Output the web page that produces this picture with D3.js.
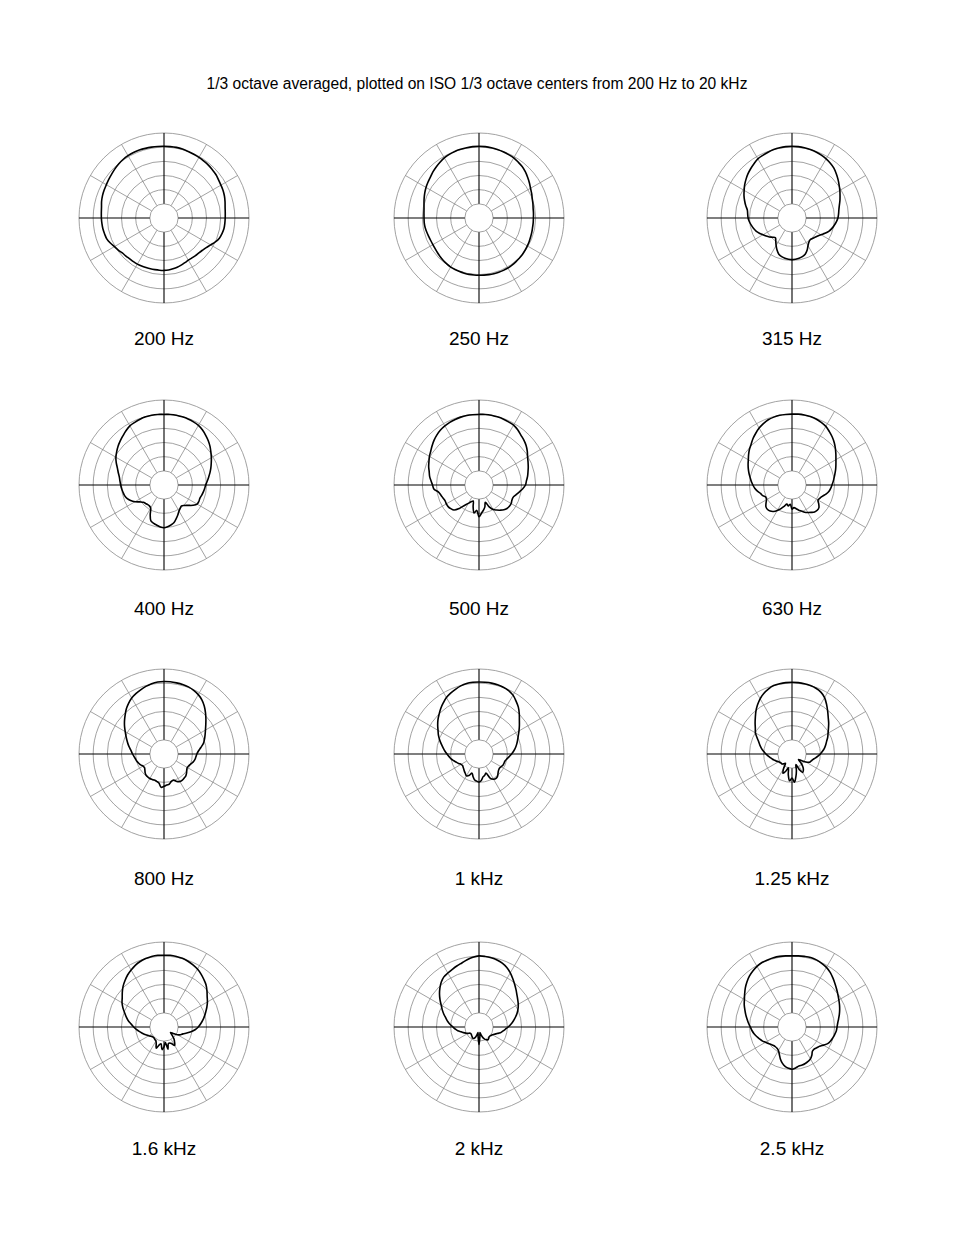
<!DOCTYPE html>
<html>
<head>
<meta charset="utf-8">
<script src="https://cdn.jsdelivr.net/npm/d3@7"></script>
<style>
  body { margin: 0; background: #fff; }
  svg { display: block; font-family: "Liberation Sans", Arial, sans-serif; }
</style>
</head>
<body>
<div id="chart"></div>
<script>
// polar response, dB relative to on-axis, read every 5 degrees (0 = front, clockwise)
const title = "1/3 octave averaged, plotted on ISO 1/3 octave centers from 200 Hz to 20 kHz";
const freqLabels = ["200 Hz", "250 Hz", "315 Hz", "400 Hz", "500 Hz", "630 Hz",
                    "800 Hz", "1 kHz", "1.25 kHz", "1.6 kHz", "2 kHz", "2.5 kHz"];
const angles = d3.range(0, 360, 5);

const hz200 = [0.3, 0.3, 0.3, 0.2, 0, -0.15, -0.3, -0.5, -0.65, -0.9, -1.1, -1.5,
  -1.8, -2.0, -2.3, -2.7, -3.1, -3.3, -3.4, -3.45, -3.5, -3.8, -4.2, -5.0,
  -6.0, -6.8, -7.3, -7.6, -7.7, -7.8, -7.8, -7.6, -7.3, -7.0, -6.8, -6.6,
  -6.5, -6.5, -6.5, -6.45, -6.4, -6.3, -6.2, -6.2, -6.2, -6.0, -5.8, -5.3,
  -4.8, -4.1, -3.5, -3.3, -3.1, -3.0, -2.9, -2.8, -2.6, -2.2, -1.9, -1.7,
  -1.5, -1.2, -0.9, -0.5, -0.1, 0.2, 0.4, 0.5, 0.5, 0.45, 0.4, 0.35];
const hz250 = [0.3, 0.3, 0.2, 0.05, -0.1, -0.3, -0.5, -0.9, -1.3, -1.9, -2.6, -3.3,
  -4.0, -4.5, -5.0, -5.3, -5.6, -5.7, -5.8, -5.8, -5.8, -5.7, -5.6, -5.45,
  -5.3, -5.15, -5.0, -4.9, -4.8, -4.7, -4.6, -4.6, -4.6, -4.65, -4.7, -4.75,
  -4.8, -4.8, -4.8, -4.85, -4.9, -4.95, -5.0, -5.2, -5.4, -5.65, -5.9, -6.1,
  -6.2, -6.2, -6.1, -5.9, -5.7, -5.6, -5.6, -5.5, -5.3, -4.9, -4.4, -3.9,
  -3.4, -3.0, -2.6, -2.0, -1.5, -1.0, -0.5, -0.2, 0, 0.1, 0.2, 0.3];
const hz315 = [0.3, 0.3, 0.2, 0, -0.2, -0.5, -0.9, -1.4, -2.0, -2.9, -3.8, -4.7,
  -5.5, -6.3, -7.0, -7.7, -8.2, -8.5, -8.8, -9.3, -9.9, -10.5, -11.2, -12.2,
  -13.2, -13.9, -14.4, -14.8, -15.0, -14.6, -13.7, -12.4, -11.4, -10.9, -10.6, -10.4,
  -10.3, -10.4, -10.6, -10.9, -11.4, -12.5, -13.8, -15.0, -15.9, -15.4, -14.6, -13.9,
  -13.2, -12.3, -11.5, -10.9, -10.4, -9.9, -9.5, -9.3, -9.0, -8.1, -7.2, -6.3,
  -5.5, -4.6, -3.8, -3.0, -2.3, -1.6, -0.9, -0.6, -0.3, 0, 0.2, 0.3];
const hz400 = [-0.1, 0, 0, -0.1, -0.2, -0.4, -0.7, -1.3, -2.1, -2.9, -3.8, -4.8,
  -5.7, -6.6, -7.4, -8.2, -9.0, -9.7, -10.3, -10.6, -10.9, -11.2, -11.5, -11.4,
  -11.5, -12.5, -13.8, -14.8, -15.4, -15.0, -14.4, -13.4, -12.4, -11.3, -10.7, -10.2,
  -9.9, -10.1, -10.6, -11.0, -11.5, -13.5, -15.6, -16.0, -16.0, -15.8, -15.5, -14.6,
  -13.2, -12.0, -11.1, -10.6, -10.3, -10.0, -9.7, -9.4, -9.0, -8.3, -7.5, -6.4,
  -5.4, -4.6, -3.8, -3.1, -2.4, -1.6, -0.9, -0.6, -0.3, -0.1, 0, 0];
const hz500 = [-0.1, 0, 0, -0.1, -0.2, -0.4, -0.6, -1.2, -2.0, -2.6, -3.3, -4.2,
  -5.2, -5.9, -6.5, -7.1, -7.6, -8.2, -8.6, -9.5, -10.6, -11.5, -12.2, -12.2,
  -11.9, -11.9, -12.1, -12.6, -13.4, -14.2, -15.0, -16.5, -18.5, -17.0, -16.0, -15.0,
  -13.8, -16.0, -15.0, -17.0, -19.0, -18.5, -17.5, -16.3, -14.2, -12.5, -12.0, -11.7,
  -11.7, -11.8, -11.5, -11.1, -10.5, -9.0, -8.6, -8.0, -7.3, -6.8, -6.1, -5.5,
  -4.8, -4.2, -3.4, -2.6, -1.9, -1.3, -0.9, -0.6, -0.4, -0.2, -0.1, -0.1];
const hz630 = [0, 0.1, 0.1, 0, -0.2, -0.6, -1.1, -2.0, -2.9, -3.9, -5.0, -6.1,
  -7.1, -7.9, -8.6, -9.3, -9.9, -10.4, -10.9, -11.3, -11.8, -12.6, -13.5, -14.1,
  -14.4, -13.5, -12.6, -12.4, -12.6, -13.2, -13.8, -14.4, -15.2, -15.8, -16.5, -17.0,
  -16.5, -18.2, -17.5, -18.0, -17.0, -15.8, -14.6, -13.6, -13.0, -12.8, -13.0, -13.8,
  -14.6, -14.8, -14.0, -13.5, -12.6, -11.8, -11.2, -10.6, -10.0, -9.3, -8.6, -7.9,
  -7.2, -6.3, -5.4, -4.6, -3.6, -2.7, -1.8, -1.1, -0.5, -0.2, 0, 0];
const hz800 = [0.6, 0.6, 0.5, 0.4, 0.2, -0.2, -0.8, -1.7, -2.9, -4.3, -5.7, -7.0,
  -8.1, -9.0, -9.8, -10.6, -11.8, -12.8, -13.4, -13.7, -13.9, -14.3, -14.9, -15.3,
  -15.5, -15.2, -14.6, -14.1, -13.9, -13.7, -13.8, -14.3, -15.2, -15.0, -14.2, -14.0,
  -13.6, -13.2, -14.6, -15.0, -15.2, -15.1, -15.0, -15.1, -15.2, -15.6, -16.2, -16.6,
  -16.5, -15.9, -15.5, -15.1, -14.8, -14.4, -13.9, -13.4, -12.7, -11.9, -11.1, -10.2,
  -9.2, -8.0, -6.8, -5.6, -4.3, -3.2, -2.2, -1.5, -0.9, -0.3, 0.2, 0.5];
const hz1000 = [0.4, 0.4, 0.4, 0.3, 0.1, -0.3, -1.0, -2.2, -3.4, -4.9, -6.4, -7.6,
  -8.7, -9.7, -10.5, -11.2, -11.9, -12.7, -13.5, -14.3, -15.0, -15.5, -15.6, -15.7,
  -16.0, -16.2, -16.0, -15.5, -14.8, -14.5, -14.7, -15.5, -17.8, -17.2, -16.8, -15.6,
  -15.1, -15.4, -15.8, -16.8, -17.8, -16.6, -16.1, -16.6, -17.0, -17.4, -17.7, -17.9,
  -17.7, -17.1, -16.5, -15.8, -15.0, -14.4, -13.7, -12.9, -12.1, -11.2, -10.2, -9.2,
  -8.3, -7.2, -6.1, -5.1, -4.0, -3.0, -2.0, -1.3, -0.7, -0.1, 0.3, 0.4];
const hz1250 = [0.3, 0.3, 0.2, 0, -0.3, -0.9, -2.0, -3.7, -5.4, -6.9, -8.1, -9.3,
  -10.3, -11.1, -12.0, -12.7, -13.4, -14.2, -15.0, -15.9, -16.7, -17.4, -17.8, -18.2,
  -19.3, -21.0, -22.0, -20.5, -19.0, -18.0, -17.5, -19.0, -21.0, -19.0, -17.0, -15.0,
  -16.5, -15.5, -17.5, -20.0, -18.5, -17.5, -19.0, -21.0, -20.5, -20.0, -20.0, -19.8,
  -19.6, -19.0, -18.5, -17.9, -17.3, -16.6, -15.8, -15.0, -14.1, -13.3, -12.5, -11.4,
  -10.1, -9.2, -8.0, -6.7, -5.2, -3.8, -2.5, -1.4, -0.6, 0, 0.2, 0.3];
const hz1600 = [0.3, 0.4, 0.3, 0.1, -0.3, -0.8, -1.4, -2.2, -3.1, -4.0, -5.2, -6.4,
  -7.3, -8.3, -9.3, -10.2, -11.1, -12.0, -12.9, -14.0, -15.3, -16.7, -17.9, -18.5,
  -19.5, -21.0, -22.0, -21.0, -19.5, -18.5, -17.5, -18.5, -19.0, -19.0, -17.0, -19.5,
  -18.0, -17.0, -19.0, -18.5, -17.0, -18.5, -19.3, -19.5, -19.7, -19.8, -19.7, -19.3,
  -18.8, -18.3, -17.6, -16.9, -16.1, -15.2, -14.3, -13.4, -12.2, -11.2, -10.2, -9.0,
  -7.9, -7.0, -5.8, -4.6, -3.6, -2.6, -1.8, -1.0, -0.4, 0, 0.3, 0.4];
const hz2000 = [0.1, 0, -0.2, -0.5, -1.0, -1.8, -2.9, -4.2, -5.4, -6.5, -7.5, -8.3,
  -9.0, -9.8, -10.7, -11.7, -12.7, -13.7, -14.7, -15.7, -16.5, -17.2, -18.2, -19.0,
  -19.5, -19.8, -20.0, -20.0, -19.7, -19.5, -19.8, -20.3, -21.0, -22.0, -23.0, -21.5,
  -18.8, -21.5, -23.0, -22.0, -21.0, -20.5, -20.5, -20.8, -21.0, -21.2, -21.3, -21.2,
  -20.5, -19.9, -19.2, -18.5, -17.4, -16.6, -15.8, -14.8, -13.8, -12.9, -11.8, -10.7,
  -9.6, -8.2, -6.8, -5.5, -4.3, -3.4, -3.0, -2.6, -2.1, -1.6, -0.9, -0.3];
const hz2500 = [0.1, 0.2, 0.3, 0.4, 0.2, -0.2, -0.7, -1.5, -2.5, -3.5, -4.4, -5.2,
  -5.9, -6.5, -7.1, -7.7, -8.3, -8.8, -9.1, -9.3, -9.7, -10.1, -10.5, -11.1,
  -12.2, -13.1, -13.6, -14.0, -13.8, -12.8, -12.0, -11.6, -11.3, -11.1, -11.0, -10.5,
  -10.1, -10.4, -10.9, -11.8, -13.0, -14.4, -15.4, -15.8, -15.9, -15.8, -15.4, -14.8,
  -14.2, -13.4, -12.8, -12.1, -11.4, -10.8, -10.3, -9.6, -8.9, -8.1, -7.3, -6.4,
  -5.6, -4.6, -3.5, -2.5, -1.6, -0.9, -0.3, 0.1, 0.2, 0.3, 0.3, 0.2];

const series = [hz200, hz250, hz315, hz400, hz500, hz630,
                hz800, hz1000, hz1250, hz1600, hz2000, hz2500];

const ringLevels = [-20, -15, -10, -5, 0, 5];
const spokeAngles = [30, 60, 120, 150, 210, 240, 300, 330];
const axisAngles = [0, 90, 180, 270];

let width = 954, height = 1235;
let radius = 85;
let colX = [164, 479, 792];
let rowY = [218, 485, 754, 1027];
let labelY = [345, 615, 885, 1155];

let r = d3.scaleLinear().domain([-25, 5]).range([0, radius]);
let holeR = r(ringLevels[0]);
let rad = a => a * Math.PI / 180;

let svg = d3.select("#chart").append("svg")
    .attr("width", width)
    .attr("height", height);

svg.append("rect").attr("width", width).attr("height", height).attr("fill", "#fff");

svg.append("text")
    .attr("x", 477)
    .attr("y", 89)
    .attr("text-anchor", "middle")
    .style("font-size", "15.6px")
    .text(title);

let line = d3.lineRadial()
    .angle(d => rad(d[0]))
    .radius(d => r(d[1]))
    .curve(d3.curveCatmullRomClosed.alpha(0.5));

let plots = svg.selectAll(".plot")
    .data(series)
    .enter().append("g")
    .attr("class", "plot")
    .attr("transform", (d, i) => "translate(" + colX[i % 3] + "," + rowY[Math.floor(i / 3)] + ")");

// rings
plots.selectAll(".ring")
    .data(ringLevels)
    .join("circle")
    .attr("r", d => r(d))
    .attr("fill", "none")
    .attr("stroke", "#8a8a8a")
    .attr("stroke-width", 0.8);

// grey spokes
plots.selectAll(".spoke")
    .data(spokeAngles)
    .join("line")
    .attr("x1", d => holeR * Math.sin(rad(d)))
    .attr("y1", d => -holeR * Math.cos(rad(d)))
    .attr("x2", d => radius * Math.sin(rad(d)))
    .attr("y2", d => -radius * Math.cos(rad(d)))
    .attr("stroke", "#8a8a8a")
    .attr("stroke-width", 0.8);

// main axes
plots.selectAll(".axis")
    .data(axisAngles)
    .join("line")
    .attr("x1", d => holeR * Math.sin(rad(d)))
    .attr("y1", d => -holeR * Math.cos(rad(d)))
    .attr("x2", d => radius * Math.sin(rad(d)))
    .attr("y2", d => -radius * Math.cos(rad(d)))
    .attr("stroke", "#000")
    .attr("stroke-width", 1.1);

// response curve
plots.append("path")
    .attr("d", d => line(d.map((v, j) => [angles[j], v])))
    .attr("fill", "none")
    .attr("stroke", "#000")
    .attr("stroke-width", 1.6)
    .attr("stroke-linejoin", "round");

svg.selectAll(".freqLabel")
    .data(freqLabels)
    .enter().append("text")
    .attr("class", "freqLabel")
    .attr("x", (d, i) => colX[i % 3])
    .attr("y", (d, i) => labelY[Math.floor(i / 3)])
    .attr("text-anchor", "middle")
    .style("font-size", "19px")
    .text(d => d);
</script>
</body>
</html>
